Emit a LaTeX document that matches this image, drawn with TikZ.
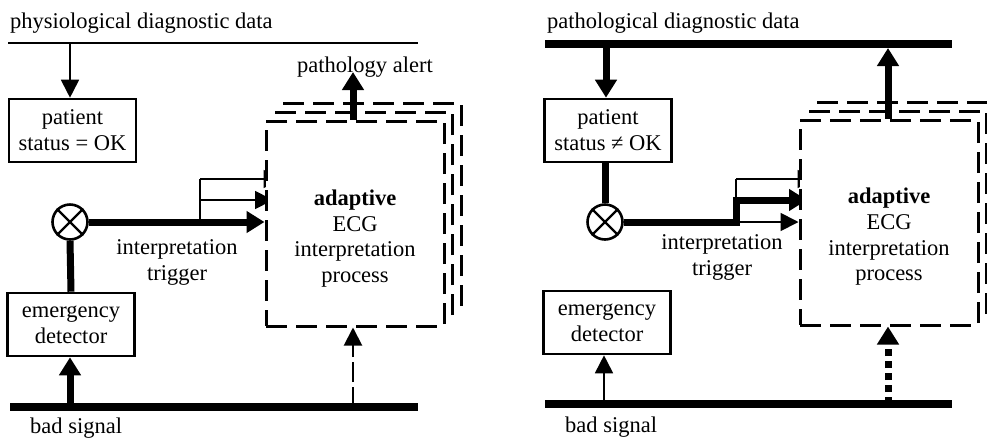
\documentclass[tikz,border=0pt]{standalone}
\usepackage{fontspec}
\setmainfont{Liberation Serif}
\usetikzlibrary{arrows.meta,calc}
\pgfdeclarelayer{bg}
\pgfsetlayers{bg,main}
\begin{document}
\begin{tikzpicture}[x=1pt,y=-1pt,
  every node/.style={font=\fontsize{22.5}{25.7}\selectfont, inner sep=0pt},
  txt/.style={align=center},
  box/.style={draw, line width=2.6pt, minimum width=127pt, minimum height=63pt, align=center},
  proc/.style={draw, line width=3pt, dash pattern=on 21pt off 9pt, fill=white, minimum width=178pt, minimum height=205pt},
  mult/.style={circle, draw, line width=2.6pt, minimum size=35pt},
  thinln/.style={line width=1.8pt},
  thickln/.style={line width=7pt, line join=miter},
  busthin/.style={line width=1.8pt},
  busthick/.style={line width=8pt},
  thinarr/.style={line width=1.8pt, -{Triangle[length=18pt,width=18pt]}},
  thickarr/.style={line width=7pt, line join=miter, -{Triangle[length=18pt,width=21pt]}},
  dasharr/.style={line width=2pt, dash pattern=on 20pt off 5pt, -{Triangle[length=18pt,width=18pt]}},
  dotarr/.style={line width=7pt, dash pattern=on 7pt off 5pt, -{Triangle[length=18pt,width=21pt]}}
]
\useasboundingbox (0,0) rectangle (987,440);
\clip (0,0) rectangle (987,440);

% ================= LEFT PANEL =================
\node[anchor=base west] (t1) at (10,28) {physiological diagnostic data};
\coordinate (l1a) at (8,43);
\coordinate (l1b) at (418,43);
\draw[busthin] (l1a) -- (l1b);
\node[box] (p1) at (72.5,130.5) {patient\\status = OK};
\coordinate (a1) at (70,43);
\draw[thinarr] (a1) -- (a1 |- p1.north);

\node[mult] (m1) at (70,222) {};
\draw[line width=2.4pt] (m1.45) -- (m1.225) (m1.135) -- (m1.315);

\node[box] (e1) at (71,324.5) {emergency\\detector};
\draw[thickln] (m1.south) -- (e1.north);

\coordinate (bl1a) at (10,407);
\coordinate (bl1b) at (418,407);
\draw[busthick] (bl1a) -- (bl1b);
\coordinate (a2) at (70,407);
\draw[thickarr] (a2) -- (a2 |- e1.south);
\node[anchor=base west] (bs1) at (30,433) {bad signal};

\node[proc] (b3) at (372,205.5) {};
\node[proc] (b2) at (363.5,214.5) {};
\node[proc] (b1) at (355,223.5) {};
\node[txt] (x1) at (355,238.5) {\textbf{adaptive}\\ECG\\interpretation\\process};

\coordinate (j1) at (200,222);
\coordinate (j1m) at (200,200);
\coordinate (j1t) at (200,179);
\begin{pgfonlayer}{bg}
\draw[thickarr] (m1.east) -- (m1.east -| b1.west);
\draw[thinln] (j1) -- (j1t);
\draw[thinarr] (j1m) -- (j1m -| b2.west);
\draw[thinarr] (j1t) -- (j1t -| b3.west);
\end{pgfonlayer}
\node[txt] (it1) at (177,262.5) {interpretation\\trigger};

\node[anchor=base west] (pa) at (297,72) {pathology alert};
\coordinate (u1) at (353,72);
\draw[thickarr] (u1 |- b1.north) -- (u1);
\coordinate (d1) at (353,407);
\draw[dasharr] (d1) -- (d1 |- b1.south);

% ================= RIGHT PANEL =================
\node[anchor=base west] (t2) at (547,28) {pathological diagnostic data};
\coordinate (l2a) at (545,44);
\coordinate (l2b) at (952,44);
\draw[busthick] (l2a) -- (l2b);
\node[box] (p2) at (608,130.5) {patient\\status ≠ OK};
\coordinate (a3) at (606,44);
\draw[thickarr] (a3) -- (a3 |- p2.north);

\node[mult] (m2) at (605,222) {};
\draw[line width=2.4pt] (m2.45) -- (m2.225) (m2.135) -- (m2.315);
\draw[thickln] (p2.south -| m2.north) -- (m2.north);

\node[box] (e2) at (607,322.5) {emergency\\detector};
\coordinate (bl2a) at (545,404);
\coordinate (bl2b) at (952,404);
\draw[busthick] (bl2a) -- (bl2b);
\coordinate (a4) at (604,404);
\draw[thinarr] (a4) -- (a4 |- e2.south);
\node[anchor=base west] (bs2) at (565,432) {bad signal};

\node[proc] (b3r) at (906,204.5) {};
\node[proc] (b2r) at (897.5,213.5) {};
\node[proc] (b1r) at (889,222.5) {};
\node[txt] (x2) at (889,237) {\textbf{adaptive}\\ECG\\interpretation\\process};

\coordinate (k1) at (736,222);
\coordinate (k2) at (736,200);
\coordinate (k3) at (736,179);
\begin{pgfonlayer}{bg}
\draw[thickarr] (m2.east) -- (k1) -- (k2) -- (k2 -| b2r.west);
\draw[thinarr] (k1) -- (k1 -| b1r.west);
\draw[thinln] (k2) -- (k3);
\draw[thinarr] (k3) -- (k3 -| b3r.west);
\end{pgfonlayer}
\node[txt] (it2) at (722,257.5) {interpretation\\trigger};

\coordinate (u2) at (888,48);
\draw[thickarr] (u2 |- b1r.north) -- (u2);
\coordinate (d2) at (888,404);
\draw[dotarr] (d2) -- (d2 |- b1r.south);
\end{tikzpicture}
\end{document}
